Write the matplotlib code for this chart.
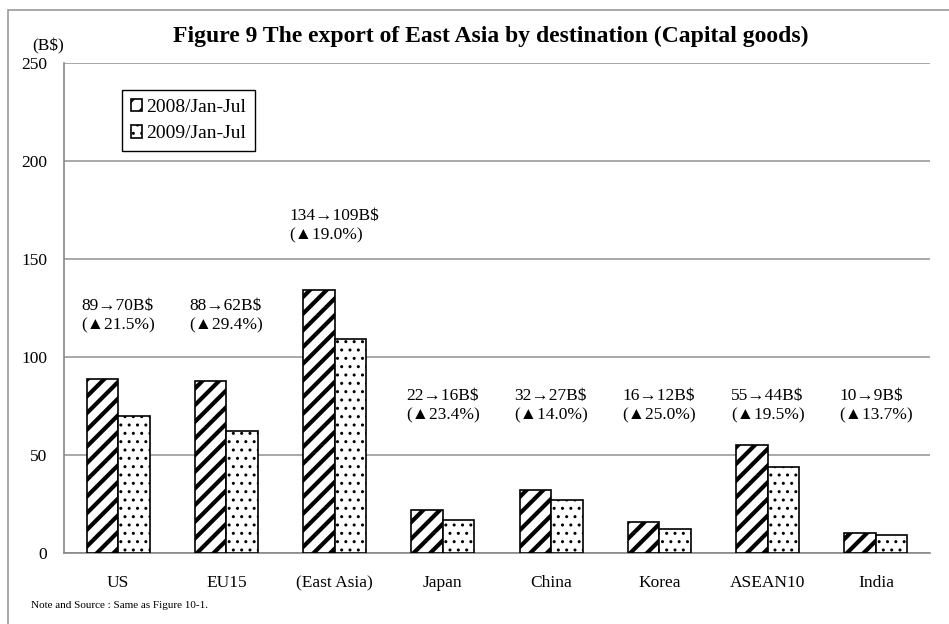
import matplotlib
matplotlib.use("Agg")
import matplotlib.pyplot as plt
import matplotlib.patches as mpatches
import numpy as np

# categories and values (billion US$)
categories = ["US", "EU15", "(East Asia)", "Japan", "China", "Korea", "ASEAN10", "India"]
exp_2008 = [89, 88, 134, 22, 32, 16, 55, 10]
exp_2009 = [70, 62, 109, 17, 27, 12, 44, 9]
changes = ["21.5", "29.4", "19.0", "23.4", "14.0", "25.0", "19.5", "13.7"]
labels_b = ["89→70B$", "88→62B$", "134→109B$", "22→16B$", "32→27B$", "16→12B$", "55→44B$", "10→9B$"]
label_y = [112, 112, 158, 66, 66, 66, 66, 66]

plt.rcParams['font.family'] = ['Liberation Serif', 'DejaVu Serif']

fig = plt.figure(figsize=(9.49, 6.24), dpi=100)
ax = fig.add_axes([64/949, 71/624, 866/949, 490/624])

x = np.arange(len(categories))
w = 0.29

plt.rcParams['hatch.linewidth'] = 3.0
ax.bar(x - w/2, exp_2008, w, color='white', edgecolor='black', hatch='//', linewidth=1.2,
       label='2008/Jan-Jul', zorder=3)
plt.rcParams['hatch.linewidth'] = 1.0
ax.bar(x + w/2, exp_2009, w, color='white', edgecolor='black', hatch='..', linewidth=1.2,
       label='2009/Jan-Jul', zorder=3)

for i in range(len(categories)):
    ax.text(x[i], label_y[i], labels_b[i] + "\n(▲" + changes[i] + "%)",
            ha='center', va='bottom', multialignment='left', fontsize=12.5,
            linespacing=1.3, family=['Liberation Serif', 'DejaVu Sans'])

ax.set_xlim(-0.5, len(categories) - 0.5)
ax.set_ylim(0, 250)
ax.set_yticks(range(0, 251, 50))
ax.set_xticks(x)
ax.set_xticklabels(categories)
ax.tick_params(axis='both', length=0, labelsize=12.5)
ax.tick_params(axis='x', pad=16)
ax.tick_params(axis='y', pad=12)
ax.yaxis.grid(True, color='#999999', linewidth=1.2, zorder=0)
ax.set_axisbelow(True)
for s in ['top', 'right']:
    ax.spines[s].set_visible(False)
for s in ['left', 'bottom']:
    ax.spines[s].set_color('#888888')
    ax.spines[s].set_linewidth(1.2)

leg = ax.legend(loc='upper left', bbox_to_anchor=(0.067, 0.945), borderaxespad=0,
                fontsize=14, handlelength=0.6, handleheight=0.6, handletextpad=0.2,
                fancybox=False, edgecolor='black', framealpha=1, borderpad=0.45,
                labelspacing=0.5)
leg.get_frame().set_linewidth(1.0)

fig.text(491/949, 1 - 36/624, "Figure 9 The export of East Asia by destination (Capital goods)",
         ha='center', va='center', fontsize=17, fontweight='bold')
fig.text(48/949, 1 - 46/624, "(B$)", ha='center', va='center', fontsize=12.5)
fig.text(31/949, 1 - 605/624, "Note and Source : Same as Figure 10-1.", ha='left',
         va='center', fontsize=8)

border = mpatches.Rectangle((8/949, -0.05), 1.0, 1 - 10/624 + 0.05, transform=fig.transFigure,
                            fill=False, edgecolor='#999999', linewidth=1.2)
fig.patches.append(border)

fig.savefig("out.png", dpi=100)
